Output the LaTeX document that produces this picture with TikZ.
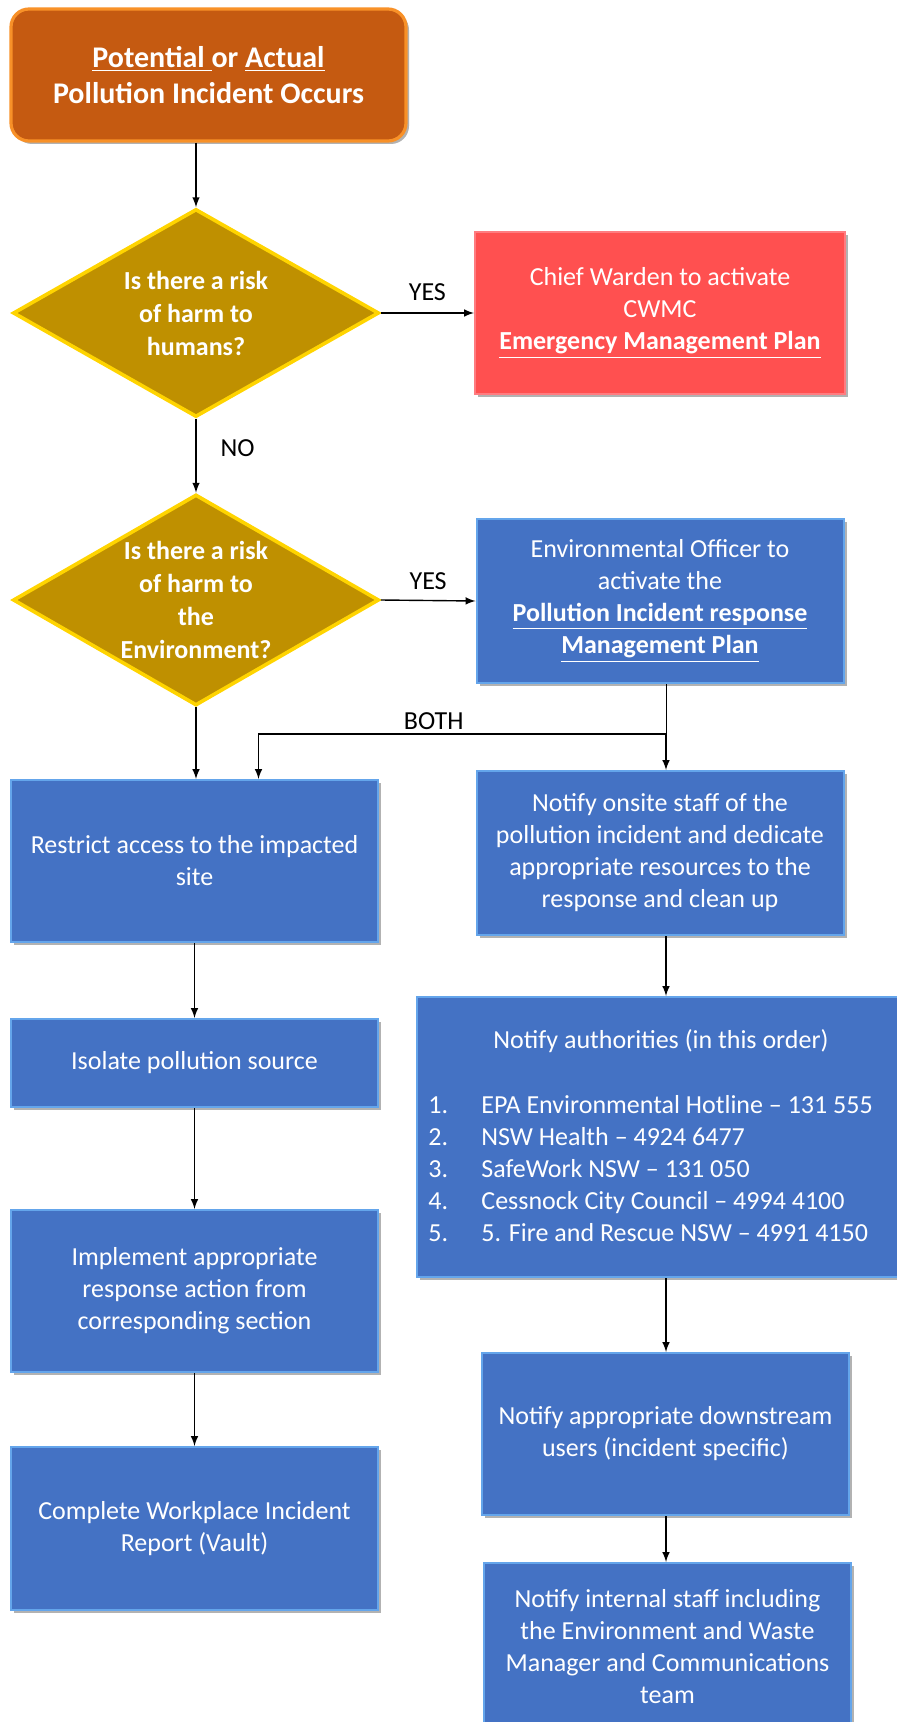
\documentclass[tikz,border=0pt]{standalone}
\usepackage{fontspec}
\setmainfont{Carlito}
\usepackage{tikz}
\usetikzlibrary{arrows}
\usetikzlibrary{shapes.geometric}
\usetikzlibrary{shadows}

\definecolor{incfill}{RGB}{197,90,17}
\definecolor{incline}{RGB}{248,145,40}
\definecolor{askfill}{RGB}{191,144,0}
\definecolor{askline}{RGB}{255,212,0}
\definecolor{redfill}{RGB}{255,80,80}
\definecolor{redline}{RGB}{255,124,128}
\definecolor{actfill}{RGB}{68,114,196}
\definecolor{actline}{RGB}{100,165,235}

\begin{document}
\begin{tikzpicture}[x=0.5pt, y=-0.5pt,
  every node/.style={font=\fontsize{13}{16}\selectfont},
  boxshadow/.style={drop shadow={shadow xshift=1.5pt, shadow yshift=-1.5pt, opacity=0.3, fill=black}},
  startbox/.style={rectangle, rounded corners=9pt, fill=incfill, draw=incline, line width=1.6pt, text=white, align=center, minimum width=197.5pt, minimum height=66pt, font=\fontsize{15}{18}\selectfont\bfseries, boxshadow},
  askbox/.style={diamond, aspect=1.76, inner sep=-10pt, fill=askfill, draw=askline, line width=1.8pt, text=white, align=center, minimum width=183pt, minimum height=104pt, font=\fontsize{13}{16.5}\selectfont\bfseries},
  warnbox/.style={rectangle, fill=redfill, draw=redline, line width=1pt, text=white, align=center, minimum width=185pt, minimum height=81pt, boxshadow},
  actbox/.style={rectangle, fill=actfill, draw=actline, line width=1pt, text=white, align=center, minimum width=183.5pt, minimum height=81pt, boxshadow},
  txt/.style={text=white, align=center},
  arr/.style={->, >=latex, line width=0.7pt},
  lbl/.style={text=black, inner sep=2pt}
]
\fill[white] (0,0) rectangle (897,1722);
\useasboundingbox (0,0) rectangle (897,1722);

\node[startbox] (start) at (208.5,75) {\underline{Potential }or \underline{Actual}\\Pollution Incident Occurs};
\node[askbox] (humans) at (196,313) {Is there a risk\\of harm to\\humans?};
\node[warnbox] (cwmc) at (660,313) {Chief Warden to activate\\CWMC\\\underline{\textbf{Emergency Management Plan}}};
\node[askbox, minimum height=105.5pt] (enviro) at (196,600) {Is there a risk\\of harm to\\the\\Environment?};
\node[actbox, minimum height=82pt] (officer) at (660,601) {Environmental Officer to\\activate the\\\underline{\textbf{Pollution Incident response}}\\\underline{\textbf{Management Plan}}};

\node[actbox] (restrict) at (194.5,861) {Restrict access to the impacted\\site};
\node[actbox, minimum height=82pt] (onsite) at (660,853) {Notify onsite staff of the\\pollution incident and dedicate\\appropriate resources to the\\response and clean up};
\node[actbox, minimum height=44pt] (isolate) at (194.5,1063) {Isolate pollution source};
\node[actbox] (implement) at (194.5,1291) {Implement appropriate\\response action from\\corresponding section};
\node[actbox, minimum height=81.5pt] (report) at (194.5,1528.5) {Complete Workplace Incident\\Report (Vault)};

\node[actbox, minimum width=241.5pt, minimum height=140pt] (authorities) at (658.5,1137) {};
\node[txt] (authtitle) at (661,1041) {Notify authorities (in this order)};
\node[txt, anchor=west, align=left, inner sep=0pt] (authlist) at (428,1171) {\begin{tabular}{@{}p{26.5pt}@{}l@{}}
1. & EPA Environmental Hotline – 131 555\\
2. & NSW Health – 4924 6477\\
3. & SafeWork NSW – 131 050\\
4. & Cessnock City Council – 4994 4100\\
5. & 5. Fire and Rescue NSW – 4991 4150
\end{tabular}};
\node[actbox] (downstream) at (665.5,1434) {Notify appropriate downstream\\users (incident specific)};
\node[actbox, minimum height=84pt] (internal) at (667.5,1647) {Notify internal staff including\\the Environment and Waste\\Manager and Communications\\team};

\coordinate (split) at ([xshift=3pt, yshift=-25pt]officer.south);
\coordinate (bothend) at ([xshift=32pt]restrict.north);

\draw[arr] (start.south -| humans.north) -- (humans.north);
\draw[arr] (humans.east) -- node[lbl, above=4pt] (yesone) {YES} (cwmc.west);
\draw[arr] (humans.south) -- node[lbl, right=10pt, pos=0.4] (nolabel) {NO} (enviro.north);
\draw[arr] (enviro.east) -- node[lbl, above=3pt] (yestwo) {YES} (officer.west);
\draw (split |- officer.south) -- (split);
\draw[arr] (split) -- (split |- onsite.north);
\draw[arr] (split) -| node[lbl, above, pos=0.285] (both) {BOTH} (bothend);
\draw[arr] (enviro.south) -- (enviro.south |- restrict.north);
\draw[arr] (restrict.south) -- (isolate.north);
\draw[arr] (isolate.south) -- (implement.north);
\draw[arr] (implement.south) -- (report.north);
\draw[arr] (split |- onsite.south) -- (split |- authorities.north);
\draw[arr] (split |- authorities.south) -- (split |- downstream.north);
\draw[arr] (split |- downstream.south) -- (split |- internal.north);
\end{tikzpicture}
\end{document}
